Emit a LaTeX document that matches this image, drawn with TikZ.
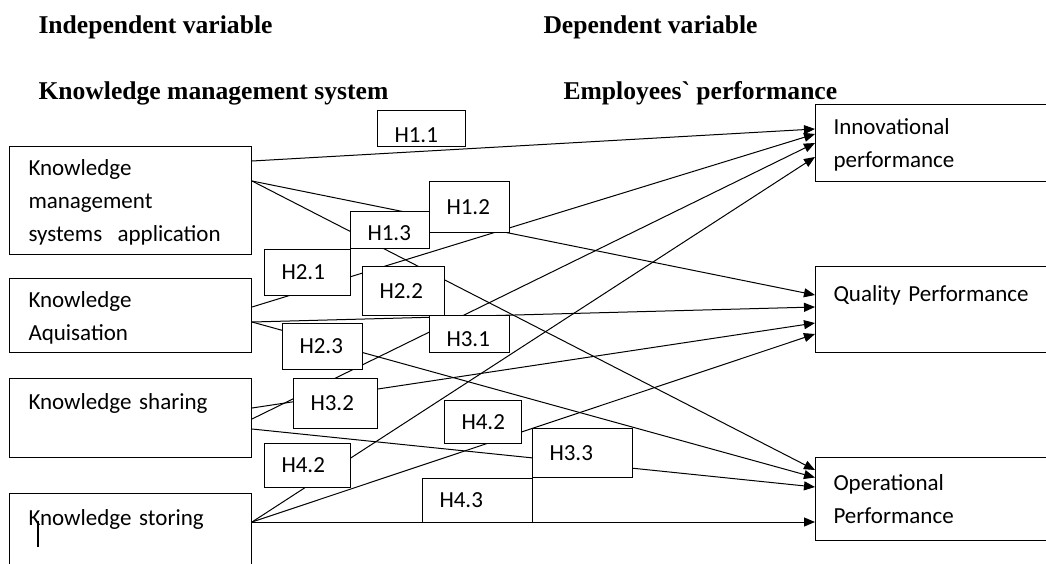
\documentclass[tikz,border=0pt]{standalone}
\usepackage{fontspec}
\setmainfont{Liberation Serif}
\newfontfamily\boxfont{Carlito}
\usetikzlibrary{arrows.meta}

\begin{document}
\begin{tikzpicture}[x=1pt, y=-1pt, line width=1pt, >={Triangle[length=11pt,width=9pt]},
  head/.style={anchor=base west, inner sep=0pt, font=\fontsize{25.6}{30}\selectfont\bfseries},
  var/.style={draw, fill=white, anchor=north west, inner xsep=19pt, inner ysep=0pt,
    text width=204pt, align=left, font=\boxfont\fontsize{23}{33}\selectfont,
    execute at begin node={\rule{0pt}{24.5pt}}, execute at end node={\rule[-8.5pt]{0pt}{8.5pt}}},
  perf/.style={var, inner xsep=18pt},
  hyp/.style={draw, fill=white, anchor=north west, inner xsep=17pt, inner ysep=0pt,
    align=left, font=\boxfont\fontsize{23}{28}\selectfont}]

\useasboundingbox (0,0) rectangle (1046,563);

% headings
\node[head] (indep) at (38,33) {Independent variable};
\node[head] (dep) at (543,33) {Dependent variable};
\node[head] (kms) at (38,99) {Knowledge management system};
\node[head] (emp) at (563,99) {Employees\textasciigrave\ performance};

% independent variables
\node[var, minimum height=108pt] (kmsa) at (9,146) {Knowledge\\management\\systems\ \ application};
\node[var, minimum height=74pt] (ka) at (9,278) {Knowledge\\Aquisation};
\node[var, minimum height=79pt] (ksh) at (9,378) {Knowledge sharing\\};
\node[var, minimum height=80pt] (kst) at (9,493) {Knowledge storing\\};
\draw[line width=2.5pt] (38,521) -- (38,547);

% dependent variables
\node[perf, minimum height=77pt] (inno) at (815,104) {Innovational\\performance};
\node[perf, minimum height=86pt] (qual) at (815,266) {Quality Performance\\};
\node[perf, minimum height=83pt] (oper) at (815,457) {Operational\\Performance};

% hypotheses
\draw[->] ([yshift=-15pt]kmsa.north east) -- ([yshift=-25pt]inno.north west);
\draw[->] ([yshift=-35pt]kmsa.north east) -- ([yshift=-29pt]qual.north west);
\draw[->] ([yshift=-35pt]kmsa.north east) -- ([yshift=-13pt]oper.north west);
\draw[->] ([yshift=-29pt]ka.north east) -- ([yshift=-30pt]inno.north west);
\draw[->] ([yshift=-44pt]ka.north east) -- ([yshift=-41pt]qual.north west);
\draw[->] ([yshift=-44pt]ka.north east) -- ([yshift=-20.5pt]oper.north west);
\draw[->] ([yshift=-41pt]ksh.north east) -- ([yshift=-39pt]inno.north west);
\draw[->] ([yshift=-30pt]ksh.north east) -- ([yshift=-57pt]qual.north west);
\draw[->] ([yshift=-51pt]ksh.north east) -- ([yshift=-30pt]oper.north west);
\draw[->] ([yshift=-29pt]kst.north east) -- ([yshift=-53pt]inno.north west);
\draw[->] ([yshift=-29pt]kst.north east) -- ([yshift=-68pt]qual.north west);
\draw[->] ([yshift=-29pt]kst.north east) -- ([yshift=-65pt]oper.north west);

% labels
\node[hyp, text width=54pt, minimum height=36pt, text height=28pt, text depth=0pt] (h11) at (377,110) {H1.1};
\node[hyp, text width=46pt, minimum height=51pt] (h12) at (429,181) {H1.2};
\node[hyp, text width=45pt, minimum height=37pt, text height=21pt, text depth=0pt] (h13) at (350,211) {H1.3};
\node[hyp, text width=52pt, minimum height=46pt] (h21) at (264,249) {H2.1};
\node[hyp, text width=48pt, minimum height=49pt] (h22) at (362,266) {H2.2};
\node[hyp, text width=46pt, minimum height=37pt, text height=25pt, text depth=0pt] (h31) at (429,315) {H3.1};
\node[hyp, text width=46pt, minimum height=46pt] (h23) at (282,323) {H2.3};
\node[hyp, text width=50pt, minimum height=50pt] (h32) at (293,378) {H3.2};
\node[hyp, text width=43pt, minimum height=43pt] (h42q) at (444,400) {H4.2};
\node[hyp, text width=52pt, minimum height=44pt] (h42i) at (264,443) {H4.2};
\node[hyp, text width=76pt, minimum height=44pt] (h43) at (422,478) {H4.3};
\node[hyp, text width=66pt, minimum height=49pt] (h33) at (532,428) {H3.3};

\end{tikzpicture}
\end{document}
